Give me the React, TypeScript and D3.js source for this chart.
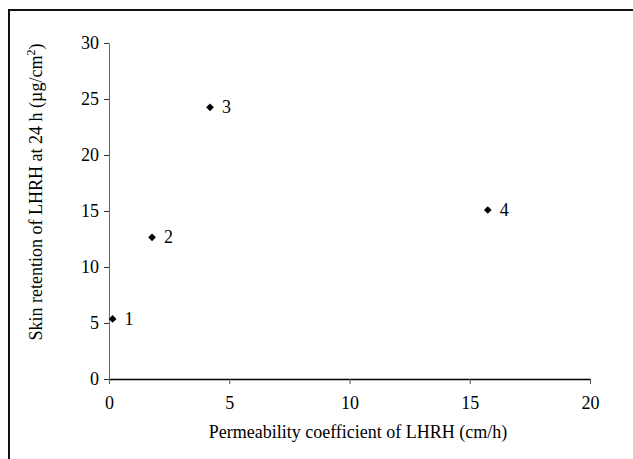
import * as d3 from "d3";
import React, { useEffect, useRef } from "react";

// permeability coefficient (cm/h) vs skin retention at 24 h (ug/cm2)
const labels = ["1", "2", "3", "4"];
const permeability = [0.15, 1.79, 4.2, 15.75];
const retention = [5.36, 12.65, 24.26, 15.09];
const xTicks = [0, 5, 10, 15, 20];
const yTicks = [0, 5, 10, 15, 20, 25, 30];

const W = 633;
const H = 459;

const App: React.FC = () => {
  const ref = useRef<SVGSVGElement | null>(null);

  useEffect(() => {
    if (!ref.current) return;
    const svg = d3.select(ref.current);
    svg.selectAll("*").remove();

    const font = "'Liberation Serif', 'Times New Roman', serif";

    // outer frame (only top and left edges show)
    svg.append("path")
      .attr("d", `M9,${H} L9,10 L${W},10`)
      .attr("fill", "none")
      .attr("stroke", "#111")
      .attr("stroke-width", 2);

    const x = d3.scaleLinear().domain([0, 20]).range([109, 590]);
    const y = d3.scaleLinear().domain([0, 30]).range([379, 43]);

    // x-axis
    const gx = svg.append("g").attr("transform", `translate(0,${y(0)})`);
    gx.call(d3.axisBottom(x).tickValues(xTicks).tickSize(5).tickPadding(12).tickSizeOuter(0));
    gx.select(".domain").attr("stroke", "#000").attr("stroke-width", 1.5);
    gx.selectAll(".tick line").attr("stroke", "#555");
    gx.selectAll("text").style("font-family", font).style("font-size", "18px").attr("fill", "#000");

    // y-axis
    const gy = svg.append("g").attr("transform", `translate(${x(0)},0)`);
    gy.call(d3.axisLeft(y).tickValues(yTicks).tickSize(5).tickPadding(5).tickSizeOuter(0));
    gy.select(".domain").attr("stroke", "#666");
    gy.selectAll(".tick line").attr("stroke", "#333");
    gy.selectAll("text").style("font-family", font).style("font-size", "18px").attr("fill", "#000");

    // axis titles
    svg.append("text")
      .attr("x", 358)
      .attr("y", 438)
      .attr("text-anchor", "middle")
      .style("font-family", font)
      .style("font-size", "18px")
      .text("Permeability coefficient of LHRH (cm/h)");

    const yt = svg.append("text")
      .attr("transform", `translate(42,192) rotate(-90)`)
      .attr("text-anchor", "middle")
      .style("font-family", font)
      .style("font-size", "18px");
    yt.append("tspan").text("Skin retention of LHRH at 24 h (\u00b5g/cm");
    yt.append("tspan").attr("dy", -7).style("font-size", "12px").text("2");
    yt.append("tspan").attr("dy", 7).text(")");

    // points
    const pts = labels.map((l, i) => ({ l, px: permeability[i], r: retention[i] }));
    const diamond = d3.symbol().type(d3.symbolDiamond2).size(38);
    svg.append("g")
      .selectAll("path")
      .data(pts)
      .enter()
      .append("path")
      .attr("d", diamond)
      .attr("transform", (d) => `translate(${x(d.px)},${y(d.r)})`)
      .attr("fill", "#000");

    svg.append("g")
      .selectAll("text")
      .data(pts)
      .enter()
      .append("text")
      .attr("x", (d) => x(d.px) + 12)
      .attr("y", (d) => y(d.r) + 6)
      .style("font-family", font)
      .style("font-size", "18px")
      .text((d) => d.l);
  }, []);

  return (
    <svg
      ref={ref}
      width={W}
      height={H}
      style={{ position: "absolute", left: 0, top: 0, background: "#fff" }}
    ></svg>
  );
};

export default App;
